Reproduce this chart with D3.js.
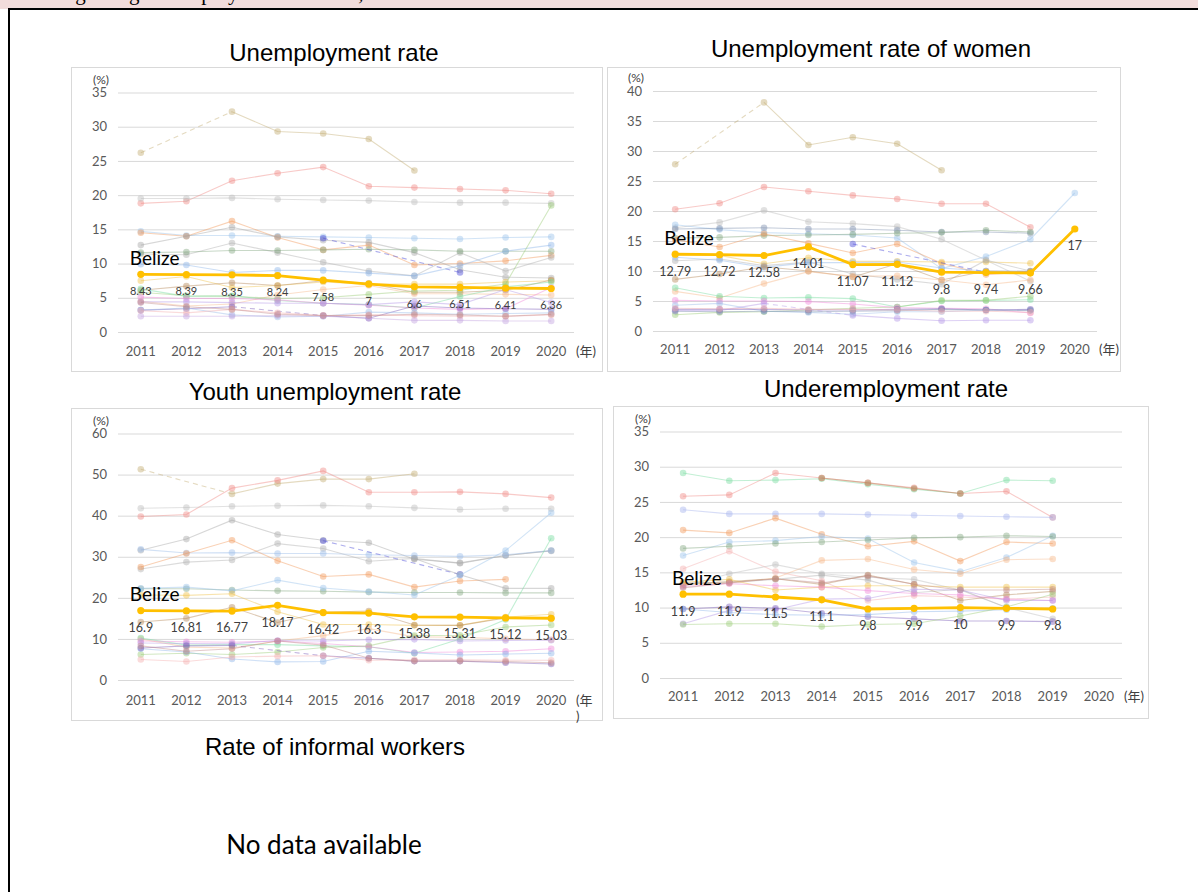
<!DOCTYPE html>
<html>
<head>
<meta charset="utf-8">
<script src="https://cdn.jsdelivr.net/npm/d3@7.9.0/dist/d3.min.js"></script>
<style>
  body { margin: 0; background: #fff; }
  svg { display: block; }
</style>
</head>
<body>
<svg id="chart" width="1198" height="892"></svg>
<script>
// Categories
const years = [2011, 2012, 2013, 2014, 2015, 2016, 2017, 2018, 2019, 2020];

// Unemployment rate
const unempBelize = [8.43, 8.39, 8.35, 8.24, 7.58, 7.0, 6.6, 6.51, 6.41, 6.36];
const unempOthers = [
  [26.2, null, 32.2, 29.3, 29.0, 28.2, 23.6, null, null, null],
  [18.8, 19.1, 22.1, 23.2, 24.1, 21.3, 21.1, 20.9, 20.7, 20.2],
  [19.5, 19.5, 19.6, 19.4, 19.3, 19.2, 19.0, 18.9, 18.9, 18.8],
  [14.7, 14.1, 14.1, 14.0, 13.9, 13.8, 13.7, 13.6, 13.8, 13.9],
  [14.5, 14.0, 16.2, 13.8, 12.0, 12.7, 9.8, 10.0, 10.4, 11.2],
  [12.7, 14.0, 15.3, 13.9, 13.4, 13.1, 11.6, 9.1, 8.0, 7.9],
  [11.4, 11.3, 13.0, 11.6, 10.2, 8.9, 8.2, 11.6, 8.9, 10.9],
  [11.6, 11.7, 11.9, 11.9, 12.0, 12.1, 12.0, 11.8, 11.8, 11.8],
  [null, null, null, null, 13.7, null, null, 8.7, null, null],
  [9.9, 9.8, 8.7, 9.0, 9.0, 8.6, 8.2, 9.7, 11.8, 12.7],
  [7.5, 8.1, 6.5, 6.8, 7.3, 7.0, 7.0, 7.0, 7.3, 7.5],
  [6.1, 6.7, 7.2, 6.8, 7.5, 7.1, 5.8, 5.8, 6.1, 7.6],
  [4.5, 3.8, 4.1, 5.4, 6.2, 6.8, 5.6, 5.6, 5.5, 5.4],
  [5.8, 5.3, 5.2, 4.9, 5.0, 5.5, 6.0, 6.1, 7.0, 18.5],
  [6.3, 5.2, 5.3, 4.6, 4.2, 4.0, 3.5, 5.2, 6.6, 7.3],
  [5.1, 4.9, 4.9, 4.7, 4.2, 3.9, 3.5, 3.3, 3.4, 6.5],
  [4.4, 4.4, 4.3, 4.2, 4.2, 4.0, 4.4, 4.0, 6.2, 4.3],
  [3.2, 3.4, 3.7, null, 2.4, 2.0, 3.8, 3.5, 3.4, 3.3],
  [3.2, 3.5, 2.5, 2.2, 2.3, 2.9, 2.8, 2.6, 2.7, 2.8],
  [3.1, 2.8, 3.3, 2.8, 2.4, 2.5, 2.4, 2.3, 2.3, 2.5],
  [2.3, 2.3, 2.3, 2.4, 2.3, 2.0, 1.7, 1.7, 1.6, 1.6],
  [4.3, 3.7, 3.3, 2.6, 2.4, 2.4, 2.6, 2.5, 2.3, 2.6]
];
const unempColors = ['tan', 'salmon', 'lgray', 'lblue', 'orange', 'gray', 'gray2', 'sage', 'blue', 'lblue2',
  'gold', 'brown', 'lorange', 'green', 'mint', 'magenta', 'lav', 'purple', 'lblue3', 'lpink', 'lav2', 'maroon'];

// Unemployment rate of women
const womenBelize = [12.79, 12.72, 12.58, 14.01, 11.07, 11.12, 9.8, 9.74, 9.66, 17];
const womenOthers = [
  [27.8, null, 38.1, 31.0, 32.3, 31.2, 26.8, null, null, null],
  [20.3, 21.3, 24.0, 23.3, 22.6, 22.0, 21.2, 21.2, 17.3, null],
  [17.2, 18.1, 20.1, 18.2, 17.9, 17.4, 15.3, 11.8, 8.3, null],
  [17.7, 16.9, 16.4, 16.2, 16.0, 15.5, 10.4, 12.4, 15.3, 23.0],
  [17.0, 17.1, 17.2, 17.0, 17.0, 16.8, 16.5, 16.5, 16.3, null],
  [15.5, 15.6, 15.9, 16.0, 16.1, 16.3, 16.4, 16.8, 16.5, null],
  [15.2, 14.0, 16.2, 14.6, 13.0, 14.5, 11.3, 9.4, 9.9, null],
  [12.9, 12.6, 11.2, 12.2, 11.6, 11.6, 11.5, 11.5, 11.3, null],
  [11.7, 12.0, 10.9, 11.5, 9.5, 8.6, 7.8, 11.8, 10.0, null],
  [null, null, null, null, 14.5, null, null, 9.8, null, null],
  [12.3, 11.8, 10.6, 11.4, 11.4, 11.5, 10.5, 10.0, 10.0, null],
  [8.6, 9.5, 10.7, 10.0, 9.0, 11.2, 8.5, 10.0, 9.9, null],
  [6.6, 5.5, 7.9, 9.9, 9.1, 9.2, 8.5, 7.7, 8.5, null],
  [7.2, 5.8, 5.5, 5.6, 5.4, 4.0, 5.0, 5.1, 5.2, null],
  [2.7, 3.1, 3.2, 3.5, 3.8, 4.0, 5.1, 5.1, 5.8, null],
  [5.1, 5.0, 5.0, 4.9, 4.5, 3.9, 3.8, 3.7, 3.0, null],
  [4.3, 4.6, 3.3, 3.1, 2.8, 3.2, 3.2, 3.5, 3.5, null],
  [3.6, 3.6, 3.6, 3.5, 3.5, 3.6, 3.7, 3.5, 3.6, null],
  [3.4, 3.4, 4.6, null, 2.6, 2.1, 1.7, 1.8, 1.8, null],
  [3.3, 3.2, 3.3, 3.2, 3.3, 3.4, 3.6, 3.5, 3.4, null],
  [3.8, 3.7, 3.8, 3.6, 3.6, 3.5, 3.3, 3.3, 3.1, null]
];
const womenColors = ['tan', 'salmon', 'lgray', 'lblue', 'slate', 'sage', 'orange', 'gold', 'gray2', 'blue',
  'lblue2', 'brown', 'lorange', 'mint', 'green', 'magenta', 'lblue3', 'purple', 'lav', 'slate', 'lpink'];

// Youth unemployment rate
const youthBelize = [16.9, 16.81, 16.77, 18.17, 16.42, 16.3, 15.38, 15.31, 15.12, 15.03];
const youthOthers = [
  [51.3, null, 45.3, 47.8, 48.9, 48.9, 50.2, null, null, null],
  [39.8, 40.3, 46.7, 48.6, 50.9, 45.7, 45.7, 45.8, 45.3, 44.4],
  [41.8, 42.0, 42.3, 42.4, 42.5, 42.3, 41.9, 41.5, 41.7, 41.7],
  [31.6, 34.3, 38.9, 35.4, 34.0, 33.4, 29.4, 28.5, 30.3, 31.5],
  [27.0, 28.7, 29.2, 33.2, 32.0, 28.9, 29.6, 28.4, 30.3, 31.4],
  [31.8, 30.9, 31.0, 30.8, 30.8, 30.5, 30.3, 30.1, 30.5, 31.5],
  [27.5, 30.8, 34.0, 29.0, 25.2, 25.7, 22.6, 24.1, 24.5, null],
  [null, null, null, null, 33.9, null, null, 25.7, null, null],
  [null, null, null, null, null, null, 29.6, 25.6, 22.3, 22.3],
  [22.2, 22.2, 21.9, 21.7, 21.6, 21.4, 21.3, 21.3, 21.2, 21.2],
  [22.3, 22.6, 21.7, 24.3, 22.4, 21.5, 20.7, 25.5, 31.5, 40.7],
  [20.7, 20.6, 21.0, 16.6, 13.5, 13.5, 13.3, 13.3, 15.3, 16.0],
  [14.1, 15.0, 17.7, 14.0, 16.5, 16.8, 13.4, 13.3, 15.1, 15.0],
  [10.0, 8.0, 7.8, 9.5, 10.8, 12.5, 10.5, 10.4, 10.0, 9.8],
  [10.2, 8.5, 8.6, 8.6, 8.3, 8.1, 6.5, 10.0, 14.7, 34.5],
  [6.2, 6.5, 6.2, 6.8, 7.9, 8.3, 10.8, 10.9, 12.9, 13.4],
  [9.5, 9.3, 9.2, 9.5, 8.9, 8.1, 6.7, 6.8, 7.0, 7.6],
  [9.0, 8.9, 8.8, 9.6, 9.5, 9.8, 9.9, 9.5, 9.6, 9.7],
  [7.6, 6.8, 5.1, 4.4, 4.5, 7.0, 6.6, 6.1, 6.3, 6.5],
  [7.8, 8.3, 8.4, null, 5.9, 5.3, 4.6, 4.6, 4.2, 3.9],
  [5.0, 4.5, 5.6, 5.8, 5.9, 4.8, 4.9, 4.9, 4.8, 4.8],
  [8.3, 7.0, 7.6, 9.5, 8.5, 5.3, 4.6, 4.6, 4.5, 4.2]
];
const youthColors = ['tan', 'salmon', 'lgray', 'gray', 'gray2', 'lblue3', 'orange', 'blue', 'gray', 'sage',
  'lblue', 'gold', 'brown', 'lorange', 'mint', 'green', 'magenta', 'lav', 'lblue2', 'purple', 'lpink', 'maroon'];

// Underemployment rate
const underBelize = [11.9, 11.9, 11.5, 11.1, 9.8, 9.9, 10, 9.9, 9.8, null];
const underOthers = [
  [29.1, 28.0, 28.1, 28.3, 27.5, 26.8, 26.2, 28.1, 28.0, null],
  [25.8, 26.0, 29.1, 28.4, 27.7, 27.0, 26.2, 26.5, 22.8, null],
  [null, null, null, 28.4, 27.7, 26.9, 26.2, null, null, null],
  [23.9, 23.3, 23.3, 23.3, 23.2, 23.1, 23.0, 22.9, 22.8, null],
  [21.0, 20.6, 22.7, 20.4, 18.7, 19.4, 16.6, 19.3, 19.1, null],
  [17.4, 19.3, 19.5, 20.1, 19.8, 16.4, 15.1, 17.1, 20.2, null],
  [18.4, 18.7, 19.1, 19.3, 19.6, 19.9, 20.0, 20.2, 20.1, null],
  [15.5, 18.0, 15.1, 13.8, 11.0, 11.7, 11.5, 11.2, 11.5, null],
  [13.2, 13.5, 14.2, 16.7, 16.9, 15.4, 14.8, 16.8, 16.9, null],
  [13.0, 14.8, 16.1, 14.8, 14.3, 14.0, 12.5, 10.0, 8.4, null],
  [13.5, 13.6, 14.0, 14.6, 13.9, 12.1, 12.6, 10.0, 9.8, null],
  [13.3, 13.7, 14.1, 13.3, 14.6, 13.3, 11.0, 11.8, 12.3, null],
  [13.6, 14.0, 12.5, 12.9, 13.1, 13.1, 12.9, 12.9, 12.9, null],
  [13.0, 13.4, 13.1, 12.9, 12.4, 12.0, 11.8, 11.2, 11.0, null],
  [7.7, 9.6, 9.7, 11.2, 11.3, 12.6, 12.5, 11.0, 11.0, null],
  [9.8, 10.1, 9.9, 9.2, 8.7, 8.4, 8.1, 8.1, 8.0, null],
  [9.8, 9.3, 9.0, 8.9, 9.0, 9.4, 9.5, 9.7, 9.9, null],
  [7.6, 7.7, 7.7, 7.3, 7.6, 7.7, 8.8, 10.1, 11.9, null],
  [12.8, 13.5, 14.1, 13.5, 14.5, 13.3, 12.5, 12.5, 12.6, null]
];
const underColors = ['mint', 'salmon', 'brown', 'lperi', 'orange', 'lblue', 'sage', 'lpink', 'lorange', 'lgray',
  'gray2', 'brown', 'gold', 'magenta', 'lav', 'purple', 'lblue2', 'green', 'maroon'];

// Colour lookup for the faint comparison series
const palette = {
  tan: '#c4ad74', salmon: '#f08a84', lgray: '#bdbdbd', lblue: '#9cc3ea', orange: '#f29a5c',
  gray: '#a6a6a6', gray2: '#b0b0b0', sage: '#86a882', blue: '#4a4ad8', lblue2: '#8fb6e8',
  gold: '#efc24a', brown: '#b58a5c', lorange: '#f6b88a', green: '#9ccc78', mint: '#78dca0',
  magenta: '#f08ada', lav: '#b496e6', purple: '#7a5cb8', lblue3: '#9bbde8', lpink: '#f4b0b0',
  lav2: '#c4a4e0', maroon: '#c08a8a', slate: '#7d8fae', lperi: '#a6b4ee'
};

const font = 'Lato, "Noto Sans CJK JP", sans-serif';
const svg = d3.select('#chart');

// Header strip (the sentence above is cut off by the top of the page)
svg.append('rect').attr('x', 0).attr('y', 0).attr('width', 1198).attr('height', 9).attr('fill', '#f2dcdb');
svg.append('text')
  .attr('x', 52).attr('y', -0.5)
  .attr('font-family', '"Liberation Serif", serif').attr('font-size', 21)
  .text('Regarding the employment situation,');
svg.append('rect').attr('x', 0).attr('y', 9).attr('width', 1198).attr('height', 883).attr('fill', '#fff');
svg.append('line').attr('x1', 8).attr('x2', 1198).attr('y1', 9).attr('y2', 9).attr('stroke', '#000').attr('stroke-width', 2);
svg.append('line').attr('x1', 9).attr('x2', 9).attr('y1', 8).attr('y2', 892).attr('stroke', '#000').attr('stroke-width', 2);

const panels = [
  { title: 'Unemployment rate', belize: unempBelize, others: unempOthers, colors: unempColors,
    yMax: 35, yStep: 5, box: [71, 67, 602, 371], grid: [118, 574, 92.5, 332],
    titleX: 334, titleY: 61, xLabelY: 351, labelSize: 11, unitTail: false },
  { title: 'Unemployment rate of women', belize: womenBelize, others: womenOthers, colors: womenColors,
    yMax: 40, yStep: 5, box: [607, 67, 1120, 371], grid: [653, 1097, 91, 331],
    titleX: 871, titleY: 57, xLabelY: 349, labelSize: 12.5, unitTail: false },
  { title: 'Youth unemployment rate', belize: youthBelize, others: youthOthers, colors: youthColors,
    yMax: 60, yStep: 10, box: [71, 408, 602, 720], grid: [118, 574, 433.5, 680],
    titleX: 325, titleY: 400, xLabelY: 700, labelSize: 12.5, unitTail: true },
  { title: 'Underemployment rate', belize: underBelize, others: underOthers, colors: underColors,
    yMax: 35, yStep: 5, box: [613, 406, 1148, 718], grid: [660, 1122, 431.5, 678],
    titleX: 886, titleY: 397, xLabelY: 696, labelSize: 12.5, unitTail: false }
];

function drawPanel(p) {
  const g = svg.append('g');

  g.append('text')
    .attr('x', p.titleX).attr('y', p.titleY)
    .attr('text-anchor', 'middle')
    .attr('font-family', '"Liberation Sans", Arial, sans-serif')
    .attr('font-size', 24)
    .attr('fill', '#000')
    .text(p.title);

  g.append('rect')
    .attr('x', p.box[0] + 0.5).attr('y', p.box[1] + 0.5)
    .attr('width', p.box[2] - p.box[0]).attr('height', p.box[3] - p.box[1])
    .attr('fill', '#fff').attr('stroke', '#d9d9d9');

  const x = d3.scaleBand().domain(years).range([p.grid[0], p.grid[1]]);
  const cx = yr => x(yr) + x.bandwidth() / 2;
  const y = d3.scaleLinear().domain([0, p.yMax]).range([p.grid[3], p.grid[2]]);

  // gridlines + y labels
  g.append('g')
    .attr('transform', `translate(${p.grid[0]},0)`)
    .call(d3.axisLeft(y)
      .tickValues(d3.range(0, p.yMax + 0.001, p.yStep))
      .tickSize(-(p.grid[1] - p.grid[0]))
      .tickPadding(11))
    .call(a => a.select('.domain').remove())
    .call(a => a.selectAll('.tick line').attr('stroke', '#d9d9d9'))
    .call(a => a.selectAll('.tick text')
      .attr('fill', '#595959').attr('font-size', 13).attr('font-family', font));

  // x labels
  g.append('g')
    .attr('transform', `translate(0,${p.xLabelY})`)
    .call(d3.axisBottom(x).tickSize(0).tickPadding(0))
    .call(a => a.select('.domain').remove())
    .call(a => a.selectAll('.tick text')
      .attr('y', 0).attr('dy', '0.35em')
      .attr('fill', '#595959').attr('font-size', 13).attr('font-family', font));

  // unit labels
  g.append('text')
    .attr('x', p.grid[0] - 17).attr('y', p.grid[2] - 9)
    .attr('text-anchor', 'middle')
    .attr('font-family', font).attr('font-size', 12).attr('fill', '#404040')
    .text('(%)');
  const tail = g.append('g').attr('font-family', font).attr('font-size', 13).attr('fill', '#404040');
  if (p.unitTail) {
    tail.append('text').attr('x', p.grid[1] + 2).attr('y', p.xLabelY).attr('dy', '0.35em').text('(年');
    tail.append('text').attr('x', p.grid[1] + 2).attr('y', p.xLabelY + 16).attr('dy', '0.35em').text(')');
  } else {
    tail.append('text').attr('x', p.grid[1] + 2).attr('y', p.xLabelY).attr('dy', '0.35em').text('(年)');
  }

  const line = d3.line()
    .defined(d => d.v != null)
    .x(d => cx(d.yr))
    .y(d => y(d.v));

  function drawSeries(values, color, opts) {
    const pts = values.map((v, i) => ({ yr: years[i], v }));
    const s = g.append('g');
    // dashed bridge over missing years
    const def = pts.filter(d => d.v != null);
    for (let k = 1; k < def.length; k++) {
      if (years.indexOf(def[k].yr) - years.indexOf(def[k - 1].yr) > 1) {
        s.append('path')
          .attr('d', d3.line().x(d => cx(d.yr)).y(d => y(d.v))([def[k - 1], def[k]]))
          .attr('fill', 'none').attr('stroke', color)
          .attr('stroke-opacity', opts.opacity).attr('stroke-width', opts.width)
          .attr('stroke-dasharray', '5,4');
      }
    }
    s.append('path')
      .attr('d', line(pts))
      .attr('fill', 'none').attr('stroke', color)
      .attr('stroke-opacity', opts.opacity).attr('stroke-width', opts.width);
    s.selectAll('circle')
      .data(def)
      .join('circle')
      .attr('cx', d => cx(d.yr)).attr('cy', d => y(d.v))
      .attr('r', opts.r)
      .attr('fill', color).attr('fill-opacity', opts.opacity);
  }

  p.others.forEach((vals, i) => {
    drawSeries(vals, palette[p.colors[i]], { opacity: 0.45, width: 1.1, r: 3.3 });
  });

  drawSeries(p.belize, '#ffc000', { opacity: 1, width: 2.8, r: 3.6 });

  // Belize value labels
  g.selectAll('.val')
    .data(p.belize.map((v, i) => ({ yr: years[i], v })).filter(d => d.v != null))
    .join('text')
    .attr('class', 'val')
    .attr('x', d => cx(d.yr)).attr('y', d => y(d.v) + 17)
    .attr('dy', '0.35em')
    .attr('text-anchor', 'middle')
    .attr('font-family', font).attr('font-size', p.labelSize).attr('fill', '#404040')
    .text(d => d.v);

  g.append('text')
    .attr('x', cx(years[0]) - 11).attr('y', y(p.belize[0]) - 16)
    .attr('dy', '0.35em')
    .attr('font-family', font).attr('font-size', 19).attr('fill', '#000')
    .text('Belize');
}

panels.forEach(drawPanel);

// Informal workers: no chart
svg.append('text')
  .attr('x', 335).attr('y', 755)
  .attr('text-anchor', 'middle')
  .attr('font-family', '"Liberation Sans", Arial, sans-serif').attr('font-size', 24)
  .text('Rate of informal workers');
svg.append('text')
  .attr('x', 324).attr('y', 854)
  .attr('text-anchor', 'middle')
  .attr('font-family', font).attr('font-size', 26)
  .text('No data available');
</script>
</body>
</html>
